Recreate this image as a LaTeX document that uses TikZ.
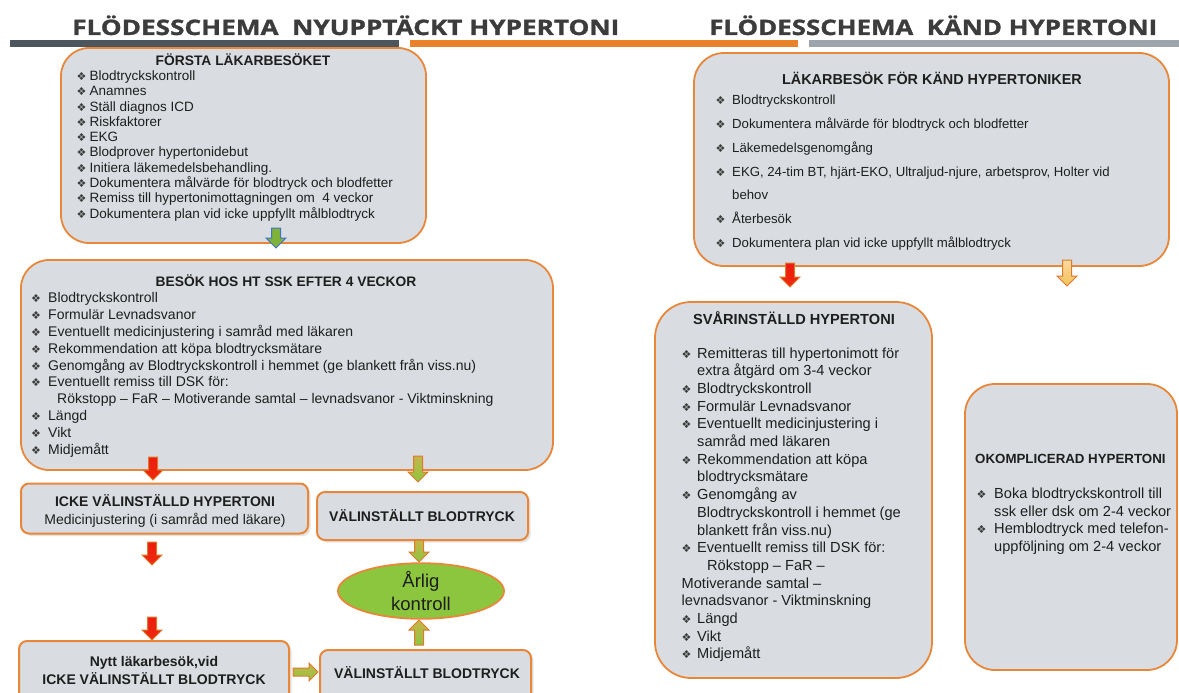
\documentclass[tikz,border=0pt]{standalone}
\usepackage{fontspec}
\setmainfont{Liberation Sans}
\newfontfamily\headfont{Open Sans}[BoldFeatures={FakeBold=1.2}]
\newfontfamily\symfont{DejaVu Sans}
\usetikzlibrary{shapes.geometric,calc,shadows}

\definecolor{boxfill}{HTML}{D9DDE1}
\definecolor{boxline}{HTML}{E8873A}
\definecolor{headgray}{HTML}{3C3C3C}
\definecolor{bardark}{HTML}{4D565C}
\definecolor{barorange}{HTML}{E9822A}
\definecolor{bargray}{HTML}{9DA4AB}
\definecolor{ellgreen}{HTML}{8CC63F}
\definecolor{txtcol}{HTML}{1E1E1E}
\definecolor{bulcol}{HTML}{3A3A3A}
\definecolor{arrred}{HTML}{EC1C0E}
\definecolor{arrorange}{HTML}{DD7A2C}
\definecolor{arrgreen}{HTML}{8CC63F}
\definecolor{arrolive}{HTML}{C8B448}
\definecolor{arrblue}{HTML}{4472C4}
\definecolor{arryellow}{HTML}{F5C15C}

\newlength\bulw
\setlength\bulw{17pt}
\newcommand{\bul}{\makebox[\bulw][l]{\symfont\fontsize{11}{11}\selectfont\color{bulcol}\raisebox{0pt}{❖}}}
\newcommand{\cont}{\hspace*{\bulw}}

\newcommand{\downarr}[3]{%
  \draw[#3] let \p1=(#1), \p2=(#2) in
  (\x1-4.5pt,\y1) -- (\x1+4.5pt,\y1) -- (\x1+4.5pt,\y2+10pt) -- (\x1+10pt,\y2+10pt)
  -- (\x1,\y2) -- (\x1-10pt,\y2+10pt) -- (\x1-4.5pt,\y2+10pt) -- cycle;}
\newcommand{\uparr}[3]{%
  \draw[#3] let \p1=(#1), \p2=(#2) in
  (\x1-4.5pt,\y1) -- (\x1+4.5pt,\y1) -- (\x1+4.5pt,\y2-10pt) -- (\x1+10pt,\y2-10pt)
  -- (\x1,\y2) -- (\x1-10pt,\y2-10pt) -- (\x1-4.5pt,\y2-10pt) -- cycle;}
\newcommand{\rightarr}[3]{%
  \draw[#3] let \p1=(#1), \p2=(#2) in
  (\x1,\y1-4pt) -- (\x2-9pt,\y1-4pt) -- (\x2-9pt,\y1-9pt) -- (\x2,\y1)
  -- (\x2-9pt,\y1+9pt) -- (\x2-9pt,\y1+4pt) -- (\x1,\y1+4pt) -- cycle;}

\tikzset{
  bigbox/.style={draw=boxline, line width=1.8pt, fill=boxfill, inner sep=0pt, rounded corners=28pt},
  smallbox/.style={draw=boxline, line width=2pt, fill=boxfill, inner sep=0pt, rounded corners=8pt,
    drop shadow={opacity=0.22, shadow xshift=2.5pt, shadow yshift=-2.5pt}},
  boxtitle/.style={inner sep=0pt, text=txtcol, font=\bfseries\fontsize{13.8}{16}\selectfont},
  items/.style={inner sep=0pt, anchor=north west, align=left, text=txtcol},
  headtxt/.style={inner sep=0pt, anchor=base west, text=headgray, font=\headfont\bfseries},
  redarr/.style={draw=arrorange, line width=1pt, top color=arrred, bottom color=arrred!85!orange},
  greenarr/.style={draw=arrorange, line width=1pt, top color=arrolive, bottom color=arrgreen},
  bluearr/.style={draw=arrblue, line width=1pt, fill=arrgreen!90!black},
  yellowarr/.style={draw=arrorange, line width=1pt, top color=arryellow!60!white, bottom color=arryellow}
}

\begin{document}
\begin{tikzpicture}[x=1pt,y=-1pt]
\useasboundingbox (0,0) rectangle (1179,693);

% headings and bars
\node[headtxt] (h1) at (72,35) {\resizebox{547pt}{19.5pt}{FLÖDESSCHEMA\ \ NYUPPTÄCKT HYPERTONI}};
\node[headtxt] (h2) at (709,35) {\resizebox{448pt}{19.5pt}{FLÖDESSCHEMA\ \ KÄND HYPERTONI}};
\fill[bardark] (10,40) rectangle (399,47);
\fill[barorange] (410,40) rectangle (798,47);
\fill[bargray] (809,40) rectangle (1179,47);

% ---------- left column ----------
\node[bigbox, minimum width=365pt, minimum height=195pt] (b1) at (243.5,145.5) {};
\node[boxtitle] (t1) at (243,59.5) {FÖRSTA LÄKARBESÖKET};
\node[items, font={\fontsize{13.5}{15.3}\selectfont\setlength\bulw{13pt}}] (i1) at (76.5,70.5) {%
\bul Blodtryckskontroll\\
\bul Anamnes\\
\bul Ställ diagnos ICD\\
\bul Riskfaktorer\\
\bul EKG\\
\bul Blodprover hypertonidebut\\
\bul Initiera läkemedelsbehandling.\\
\bul Dokumentera målvärde för blodtryck och blodfetter\\
\bul Remiss till hypertonimottagningen om\ \ 4 veckor\\
\bul Dokumentera plan vid icke uppfyllt målblodtryck};

\node[bigbox, minimum width=532pt, minimum height=210pt] (b2) at (287,365) {};
\node[boxtitle] (t2) at (286,281) {BESÖK HOS HT SSK EFTER 4 VECKOR};
\node[items, font={\fontsize{14}{16.8}\selectfont\setlength\bulw{17pt}}] (i2) at (31,292.5) {%
\bul Blodtryckskontroll\\
\bul Formulär Levnadsvanor\\
\bul Eventuellt medicinjustering i samråd med läkaren\\
\bul Rekommendation att köpa blodtrycksmätare\\
\bul Genomgång av Blodtryckskontroll i hemmet (ge blankett från viss.nu)\\
\bul Eventuellt remiss till DSK för:\\
\hspace*{26pt}Rökstopp – FaR – Motiverande samtal – levnadsvanor - Viktminskning\\
\bul Längd\\
\bul Vikt\\
\bul Midjemått};

\node[smallbox, minimum width=287pt, minimum height=50pt] (b3) at (164.5,508.5) {};
\node[inner sep=0pt, align=center, text=txtcol, font=\fontsize{14}{18}\selectfont] (t3) at (165,511) {\textbf{ICKE VÄLINSTÄLLD HYPERTONI}\\Medicinjustering (i samråd med läkare)};

\node[smallbox, minimum width=211pt, minimum height=48pt] (b4) at (422.5,516) {};
\node[boxtitle, font=\bfseries\fontsize{14}{16}\selectfont] (t4) at (422,516) {VÄLINSTÄLLT BLODTRYCK};

\node[ellipse, draw=boxline, line width=1.8pt, fill=ellgreen, minimum width=166pt, minimum height=50pt, inner sep=0pt, align=center, text=txtcol, font=\fontsize{18.5}{23}\selectfont] (ell) at (421,591) {Årlig\\kontroll};

\node[smallbox, minimum width=270pt, minimum height=60pt] (b5) at (154,671) {};
\node[inner sep=0pt, align=center, text=txtcol, font=\bfseries\fontsize{14}{18}\selectfont] (t5) at (154,670) {Nytt läkarbesök,vid\\ICKE VÄLINSTÄLLT BLODTRYCK};

\node[smallbox, minimum width=211pt, minimum height=52pt] (b6) at (425.5,676) {};
\node[boxtitle, font=\bfseries\fontsize{14}{16}\selectfont] (t6) at (427,673) {VÄLINSTÄLLT BLODTRYCK};

% left arrows
\coordinate (a1t) at (276,228);  \coordinate (a1h) at (276,248);
\coordinate (a2t) at (153,457);  \coordinate (a2h) at (153,480);
\coordinate (a3t) at (418,456);  \coordinate (a3h) at (418,482);
\coordinate (a4t) at (152,542);  \coordinate (a4h) at (152,565);
\coordinate (a5t) at (419,540);  \coordinate (a5h) at (419,562);
\coordinate (a6t) at (152,617);  \coordinate (a6h) at (152,640);
\coordinate (a7t) at (419,645);  \coordinate (a7h) at (419,620);
\coordinate (a8t) at (293,672);  \coordinate (a8h) at (318,672);
\downarr{a1t}{a1h}{bluearr}
\downarr{a2t}{a2h}{redarr}
\downarr{a3t}{a3h}{greenarr}
\downarr{a4t}{a4h}{redarr}
\downarr{a5t}{a5h}{greenarr}
\downarr{a6t}{a6h}{redarr}
\uparr{a7t}{a7h}{greenarr}
\rightarr{a8t}{a8h}{greenarr}

% ---------- right column ----------
\node[bigbox, rounded corners=30pt, minimum width=475pt, minimum height=213pt] (k1) at (931.5,159.5) {};
\node[boxtitle, font=\bfseries\fontsize{14.4}{16}\selectfont] (kt1) at (932,78) {LÄKARBESÖK FÖR KÄND HYPERTONIKER};
\node[items, font={\fontsize{13.2}{23.8}\selectfont\setlength\bulw{16.5pt}}] (ki1) at (715.5,95) {%
\bul Blodtryckskontroll\\
\bul Dokumentera målvärde för blodtryck och blodfetter\\
\bul Läkemedelsgenomgång\\
\bul EKG, 24-tim BT, hjärt-EKO, Ultraljud-njure, arbetsprov, Holter vid\\
\cont behov\\
\bul Återbesök\\
\bul Dokumentera plan vid icke uppfyllt målblodtryck};

\node[bigbox, rounded corners=36pt, minimum width=277pt, minimum height=376pt] (k2) at (793.5,490) {};
\node[boxtitle, font=\bfseries\fontsize{14.6}{16}\selectfont] (kt2) at (794,318) {SVÅRINSTÄLLD HYPERTONI};
\node[items, font={\fontsize{14.6}{17.7}\selectfont\setlength\bulw{15.5pt}}] (ki2) at (681.5,347.3) {%
\bul Remitteras till hypertonimott för\\
\cont extra åtgärd om 3-4 veckor\\
\bul Blodtryckskontroll\\
\bul Formulär Levnadsvanor\\
\bul Eventuellt medicinjustering i\\
\cont samråd med läkaren\\
\bul Rekommendation att köpa\\
\cont blodtrycksmätare\\
\bul Genomgång av\\
\cont Blodtryckskontroll i hemmet (ge\\
\cont blankett från viss.nu)\\
\bul Eventuellt remiss till DSK för:\\
\hspace*{25.5pt}Rökstopp – FaR –\\
Motiverande samtal –\\
levnadsvanor - Viktminskning\\
\bul Längd\\
\bul Vikt\\
\bul Midjemått};

\node[bigbox, rounded corners=30pt, minimum width=212pt, minimum height=286pt] (k3) at (1071,527) {};
\node[boxtitle, anchor=west, font=\bfseries\fontsize{13.3}{16}\selectfont] (kt3) at (975,459) {OKOMPLICERAD HYPERTONI};
\node[items, font={\fontsize{14.6}{17.5}\selectfont\setlength\bulw{17.5pt}}] (ki3) at (976.5,488) {%
\bul Boka blodtryckskontroll till\\
\cont ssk eller dsk om 2-4 veckor\\
\bul Hemblodtryck med telefon-\\
\cont uppföljning om 2-4 veckor};

% right arrows
\coordinate (r1t) at (790,263);  \coordinate (r1h) at (790,287);
\coordinate (r2t) at (1067,260); \coordinate (r2h) at (1067,286);
\downarr{r1t}{r1h}{redarr}
\downarr{r2t}{r2h}{yellowarr}
\end{tikzpicture}
\end{document}
